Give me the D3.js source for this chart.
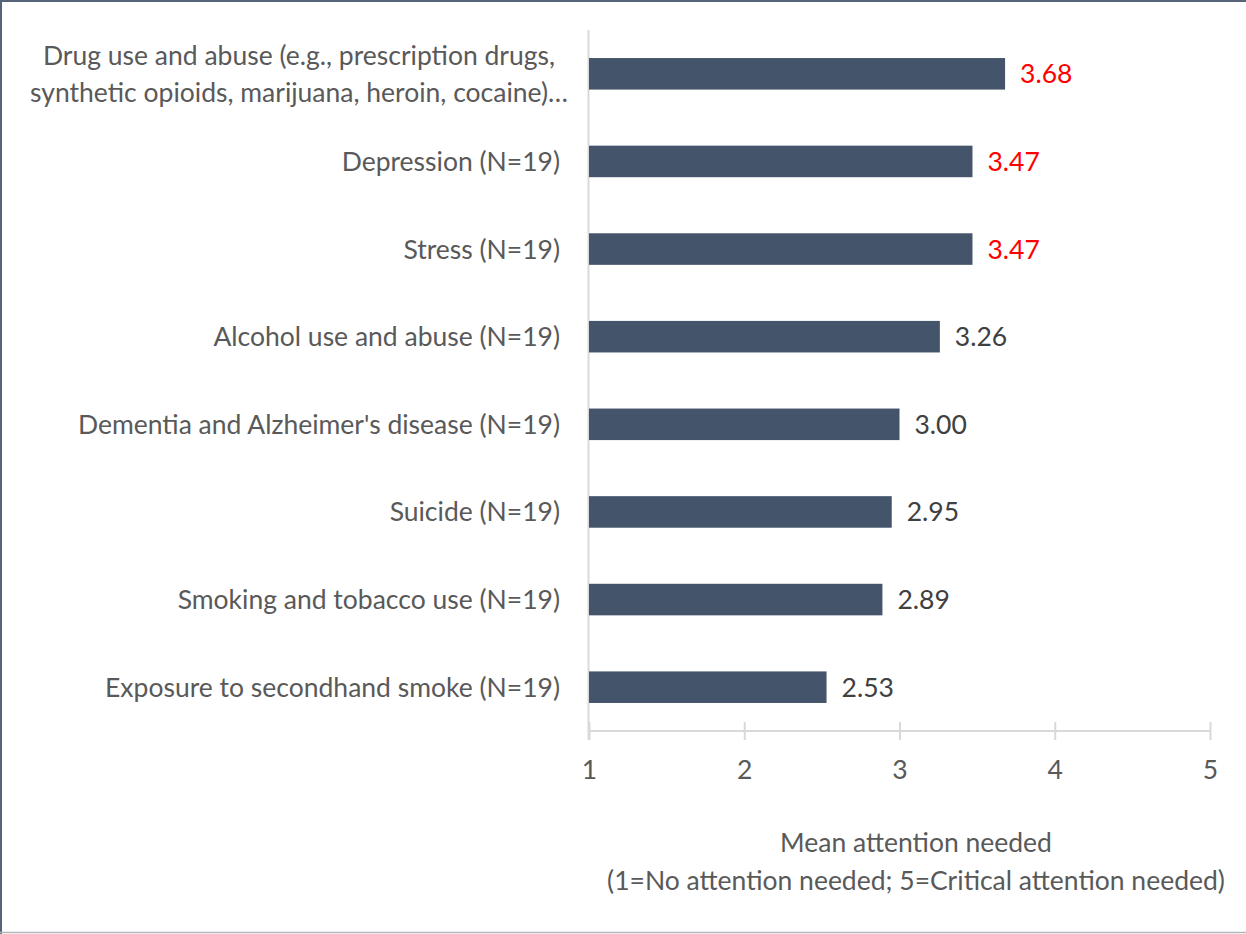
<!DOCTYPE html>
<html>
<head>
<meta charset="utf-8">
<script src="https://cdn.jsdelivr.net/npm/d3@7/dist/d3.min.js"></script>
<style>
  body { margin: 0; background: #fff; }
  svg { display: block; font-family: Lato, "Open Sans", sans-serif; }
</style>
</head>
<body>
<svg id="chart" width="1246" height="934"></svg>
<script>
// categories top to bottom
var categories = [
  ["Drug use and abuse (e.g., prescription drugs,", "synthetic opioids, marijuana, heroin, cocaine)\u2026"],
  ["Depression (N=19)"],
  ["Stress (N=19)"],
  ["Alcohol use and abuse (N=19)"],
  ["Dementia and Alzheimer's disease (N=19)"],
  ["Suicide (N=19)"],
  ["Smoking and tobacco use (N=19)"],
  ["Exposure to secondhand smoke (N=19)"]
];
var values = [3.68, 3.47, 3.47, 3.26, 3.00, 2.95, 2.89, 2.53];
var highlighted = [true, true, true, false, false, false, false, false];
var ticks = [1, 2, 3, 4, 5];
var titleLines = ["Mean attention needed", "(1=No attention needed; 5=Critical attention needed)"];

var svg = d3.select("#chart");
var fontSize = "26.5px";
var plot = { left: 589, right: 1210, top: 30, bottom: 731 };

var x = d3.scaleLinear().domain([1, 5]).range([plot.left, plot.right]);
var y = d3.scaleBand().domain(d3.range(categories.length))
  .range([plot.top, plot.bottom]).paddingInner(0.64).paddingOuter(0.32);

// frame
svg.append("line").attr("x1", 0).attr("x2", 1246).attr("y1", 1).attr("y2", 1)
   .attr("stroke", "#56647a").attr("stroke-width", 2);
svg.append("line").attr("x1", 1).attr("x2", 1).attr("y1", 0).attr("y2", 934)
   .attr("stroke", "#56647a").attr("stroke-width", 2);
svg.append("line").attr("x1", 0).attr("x2", 1246).attr("y1", 932.5).attr("y2", 932.5)
   .attr("stroke", "#b4b4bc").attr("stroke-width", 1.5);

// vertical axis line
svg.append("line").attr("x1", plot.left - 0.5).attr("x2", plot.left - 0.5)
   .attr("y1", plot.top).attr("y2", plot.bottom + 9)
   .attr("stroke", "#d9d9d9").attr("stroke-width", 2);

// horizontal axis
var xAxis = svg.append("g").attr("transform", "translate(0," + plot.bottom + ")")
  .call(d3.axisBottom(x).tickValues(ticks).tickSize(9).tickFormat(d3.format("d")));
xAxis.select(".domain").remove();
xAxis.append("line").attr("x1", plot.left).attr("x2", plot.right)
  .attr("stroke", "#d9d9d9").attr("stroke-width", 2);
xAxis.selectAll(".tick line").attr("stroke", "#d9d9d9").attr("stroke-width", 2).attr("y1", -9);
xAxis.selectAll(".tick text").attr("fill", "#595959").attr("font-size", fontSize)
  .attr("font-family", "Lato, sans-serif").attr("y", 0).attr("dy", "48px");

// bars
svg.selectAll(".bar").data(values).enter().append("rect")
  .attr("class", "bar")
  .attr("x", x(1))
  .attr("y", function (d, i) { return y(i); })
  .attr("width", function (d) { return x(d) - x(1); })
  .attr("height", y.bandwidth())
  .attr("fill", "#44546a");

// value labels
svg.selectAll(".val").data(values).enter().append("text")
  .attr("class", "val")
  .attr("x", function (d) { return x(d) + 15; })
  .attr("y", function (d, i) { return y(i) + y.bandwidth() / 2; })
  .attr("dy", "0.36em")
  .attr("font-size", fontSize)
  .attr("fill", function (d, i) { return highlighted[i] ? "#ff0000" : "#404040"; })
  .text(function (d) { return d.toFixed(2); });

// category labels (wrapped label is centred like the original)
var cat = svg.selectAll(".cat").data(categories).enter().append("text")
  .attr("class", "cat")
  .attr("text-anchor", function (d) { return d.length > 1 ? "middle" : "end"; })
  .attr("font-size", fontSize)
  .attr("fill", "#595959");
cat.each(function (lines, i) {
  var cy = y(i) + y.bandwidth() / 2;
  var lh = 37;
  var lx = lines.length > 1 ? 299 : 560;
  d3.select(this).selectAll("tspan").data(lines).enter().append("tspan")
    .attr("x", lx)
    .attr("y", function (d, j) { return cy + (j - (lines.length - 1) / 2) * lh; })
    .attr("dy", "0.36em")
    .text(function (d) { return d; });
});

// axis title
svg.selectAll(".title").data(titleLines).enter().append("text")
  .attr("class", "title")
  .attr("x", 916)
  .attr("y", function (d, i) { return 842 + i * 38; })
  .attr("dy", "0.36em")
  .attr("text-anchor", "middle")
  .attr("font-size", fontSize)
  .attr("fill", "#595959")
  .text(function (d) { return d; });
</script>
</body>
</html>
